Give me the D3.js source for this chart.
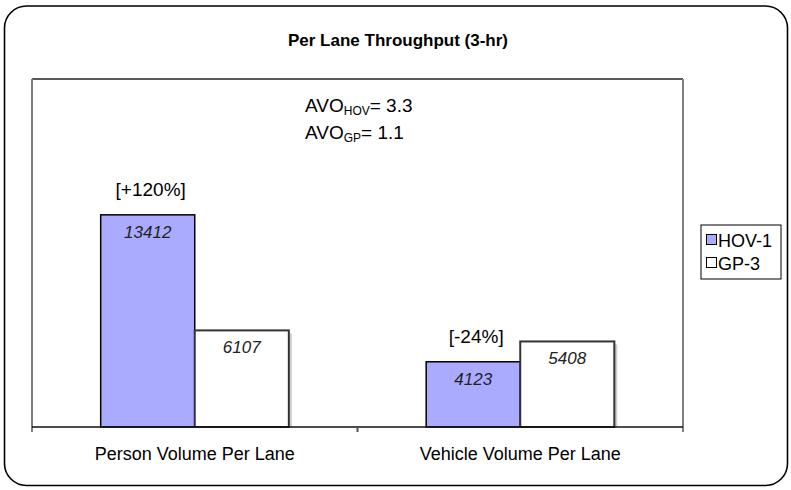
<!DOCTYPE html>
<html>
<head>
<meta charset="utf-8">
<script src="https://cdn.jsdelivr.net/npm/d3@7"></script>
<style>
  body { margin: 0; background: #fff; }
  text { font-family: "Liberation Sans", Arial, sans-serif; fill: #000; }
</style>
</head>
<body>
<script>
  // data
  var categories = ["Person Volume Per Lane", "Vehicle Volume Per Lane"];
  var series = ["HOV-1", "GP-3"];
  var hovValues = [13412, 4123];
  var gpValues = [6107, 5408];
  var changeLabels = ["[+120%]", "[-24%]"];
  var avoLines = [["HOV", "= 3.3"], ["GP", "= 1.1"]];

  var chart = {
    "width": 791,
    "height": 490,
    "left": 32,
    "right": 683,
    "top": 79,
    "bottom": 427,
    "ymax": 22000
  };
  chart.colors = {
    "HOV-1": "#aaaaff",
    "GP-3": "#ffffff"
  };

  var svg = d3.select("body").append("svg")
    .attr("width", chart.width)
    .attr("height", chart.height);

  //outer rounded frame
  svg.append("rect")
    .attr("x", 4.5).attr("y", 6)
    .attr("width", 783).attr("height", 479.5)
    .attr("rx", 22).attr("ry", 22)
    .attr("fill", "#fff")
    .attr("stroke", "#000")
    .attr("stroke-width", 1.6);

  svg.append("text")
    .attr("x", 398).attr("y", 46)
    .attr("text-anchor", "middle")
    .style("font-size", "17px")
    .style("font-weight", "bold")
    .text("Per Lane Throughput (3-hr)");

  var x0 = d3.scaleBand().domain(categories).range([chart.left, chart.right]);
  var x1 = d3.scaleBand().domain(series).range([0, x0.bandwidth()]).paddingOuter(0.73);
  var y = d3.scaleLinear().domain([0, chart.ymax]).range([chart.bottom, chart.top]);

  //plot area frame: dark top, gray sides
  svg.append("line")
    .attr("x1", chart.left).attr("x2", chart.right)
    .attr("y1", chart.top).attr("y2", chart.top)
    .attr("stroke", "#222").attr("stroke-width", 1.5);
  [chart.left, chart.right].forEach(function(px){
    svg.append("line")
      .attr("x1", px).attr("x2", px)
      .attr("y1", chart.top).attr("y2", chart.bottom + 5)
      .attr("stroke", "#808080").attr("stroke-width", 2);
  });

  var rows = categories.map(function(c, i){
    return {"cat": c, "vals": [
      {"s": "HOV-1", "v": hovValues[i]},
      {"s": "GP-3", "v": gpValues[i]}
    ]};
  });

  var groups = svg.selectAll("g.group")
    .data(rows)
    .enter().append("g")
    .classed("group", true)
    .attr("transform", function(d){ return "translate(" + x0(d.cat) + ",0)"; });

  //shadow behind the GP bars only
  groups.append("rect")
    .attr("x", function(d){ return x1("GP-3") + 3; })
    .attr("y", function(d){ return y(d.vals[1].v) + 3; })
    .attr("width", x1.bandwidth())
    .attr("height", function(d){ return chart.bottom - y(d.vals[1].v) - 3; })
    .attr("fill", "#cfcfcf");

  groups.selectAll("rect.bar")
    .data(function(d){ return d.vals; })
    .enter().append("rect")
    .classed("bar", true)
    .attr("x", function(d){ return x1(d.s); })
    .attr("y", function(d){ return y(d.v); })
    .attr("width", x1.bandwidth())
    .attr("height", function(d){ return chart.bottom - y(d.v); })
    .attr("fill", function(d){ return chart.colors[d.s]; })
    .attr("stroke", function(d){ return d.s === "HOV-1" ? "#000" : "#333"; })
    .attr("stroke-width", function(d){ return d.s === "HOV-1" ? 1.5 : 2; });

  //value labels inside bars
  groups.selectAll("text.val")
    .data(function(d){ return d.vals; })
    .enter().append("text")
    .classed("val", true)
    .attr("x", function(d){ return x1(d.s) + x1.bandwidth() / 2; })
    .attr("y", function(d){ return y(d.v) + 23; })
    .attr("text-anchor", "middle")
    .style("font-size", "17px")
    .style("font-style", "italic")
    .style("fill", "#222")
    .text(function(d){ return d.v; });

  //percentage change above the HOV bars
  groups.append("text")
    .attr("x", function(d){ return x1("HOV-1") + x1.bandwidth() / 2 + 3; })
    .attr("y", function(d){ return y(d.vals[0].v) - 19; })
    .attr("text-anchor", "middle")
    .style("font-size", "19px")
    .text(function(d, i){ return changeLabels[i]; });

  //category axis
  var axis = svg.append("g")
    .attr("transform", "translate(0," + chart.bottom + ")")
    .call(d3.axisBottom(x0).tickSize(0).tickPadding(20));
  axis.select(".domain").remove();
  axis.selectAll("text")
    .style("font-size", "18px")
    .style("font-family", "'Liberation Sans', Arial, sans-serif")
    .attr("fill", "#000");
  svg.append("line")
    .attr("x1", chart.left).attr("x2", chart.right)
    .attr("y1", chart.bottom).attr("y2", chart.bottom)
    .attr("stroke", "#111").attr("stroke-width", 1.6);
  svg.append("line")
    .attr("x1", x0(categories[1])).attr("x2", x0(categories[1]))
    .attr("y1", chart.bottom).attr("y2", chart.bottom + 5)
    .attr("stroke", "#555").attr("stroke-width", 2);

  //AVO annotation with subscripts
  avoLines.forEach(function(a, i){
    var t = svg.append("text")
      .attr("x", 305).attr("y", 112 + i * 27)
      .style("font-size", "19px");
    t.append("tspan").text("AVO");
    t.append("tspan").attr("dy", 3).style("font-size", "12px").text(a[0]);
    t.append("tspan").attr("dy", -3).text(a[1]);
  });

  //legend
  var legend = svg.append("g").attr("transform", "translate(701,225)");
  legend.append("rect")
    .attr("width", 80).attr("height", 54)
    .attr("fill", "#fff").attr("stroke", "#000").attr("stroke-width", 1);
  var items = legend.selectAll("g.item")
    .data(series)
    .enter().append("g")
    .classed("item", true)
    .attr("transform", function(d, i){ return "translate(5," + (15 + i * 23) + ")"; });
  items.append("rect")
    .attr("x", 0.5).attr("y", -5.5)
    .attr("width", 10).attr("height", 10)
    .attr("fill", function(d){ return chart.colors[d]; })
    .attr("stroke", "#000").attr("stroke-width", 1);
  items.append("text")
    .attr("x", 12).attr("y", 7)
    .style("font-size", "18px")
    .text(function(d){ return d; });
</script>
</body>
</html>
